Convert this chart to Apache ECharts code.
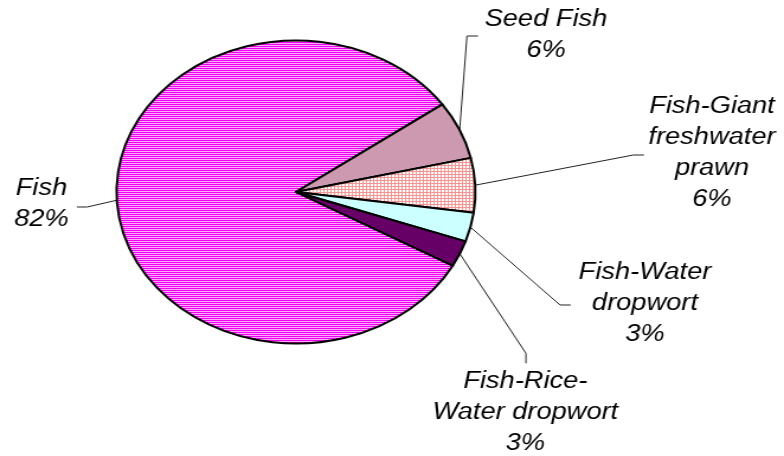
<!DOCTYPE html>
<html><head><meta charset="utf-8">
<script src="https://cdn.jsdelivr.net/npm/echarts@6/dist/echarts.min.js"></script>
<style>
html,body{margin:0;padding:0;background:#fff;overflow:hidden;}
#wrap{width:784px;height:456px;overflow:hidden;position:relative;}
#chart{width:662px;height:456px;transform:scaleX(1.18429);transform-origin:0 0;}
</style></head><body>
<div id="wrap"><div id="chart"></div></div>
<script>
// ---- data ----
const categories = ['Fish', 'Seed Fish', 'Fish-Giant freshwater prawn', 'Fish-Water dropwort', 'Fish-Rice-Water dropwort'];
const shares = [82.1, 6.2, 5.8, 3.1, 2.8];
const labelNames = ['Fish', 'Seed Fish', 'Fish-Giant\nfreshwater\nprawn', 'Fish-Water\ndropwort', 'Fish-Rice-\nWater dropwort'];

// ---- layout (unstretched coordinates) ----
const CX = 249.9, CY = 192, R = 151.5, START = -29.1;
const labelPos = [
  {x: 35.0, y: 204, elbow: [73.5, 207], end: [65, 207]},
  {x: 461.0, y: 35, elbow: [394.3, 36], end: [403.6, 36]},
  {x: 601.2, y: 153.6, elbow: [534.8, 155], end: [543.8, 155]},
  {x: 544.6, y: 303.5, elbow: [472.9, 305], end: [481.9, 305]},
  {x: 443.6, y: 413, elbow: [444.1, 353.3], end: [444.1, 363.3]}
];

function makePattern(w, h, cells) {
  const c = document.createElement('canvas');
  c.width = w; c.height = h;
  const ctx = c.getContext('2d');
  for (let j = 0; j < h; j++) for (let i = 0; i < w; i++) {
    ctx.fillStyle = cells[j * w + i];
    ctx.fillRect(i, j, 1, 1);
  }
  return {image: c, repeat: 'repeat'};
}
const M = '#F000F0', P = '#FFA8FF';
const L = '#F29494', W = '#FFFFFF';
const fills = [
  makePattern(1, 2, [M, P]),
  '#CC99B0',
  makePattern(3, 3, [L, L, L, L, W, W, L, W, W]),
  '#CCFFFF',
  '#660066'
];

function edgePoint(i) {
  const total = shares.reduce((a, b) => a + b, 0);
  let acc = 0;
  for (let k = 0; k < i; k++) acc += shares[k];
  const mid = START - (acc + shares[i] / 2) / total * 360;
  const a = mid * Math.PI / 180;
  return [CX + R * Math.cos(a), CY - R * Math.sin(a)];
}

const chart = echarts.init(document.getElementById('chart'), null, {renderer: 'canvas'});
chart.setOption({
  animation: false,
  series: [{
    type: 'pie',
    center: [CX, CY],
    radius: R,
    startAngle: START,
    clockwise: true,
    percentPrecision: 0,
    avoidLabelOverlap: false,
    silent: true,
    itemStyle: {borderColor: '#000', borderWidth: 2},
    label: {
      show: true,
      position: 'outside',
      formatter: p => labelNames[p.dataIndex] + '\n' + p.percent + '%',
      fontFamily: '"Liberation Sans", Arial, sans-serif',
      fontStyle: 'italic',
      fontSize: 23,
      lineHeight: 31,
      color: '#000',
      align: 'center'
    },
    labelLine: {show: true, lineStyle: {color: '#222', width: 1}},
    labelLayout: function (params) {
      const lp = labelPos[params.dataIndex];
      return {
        x: lp.x, y: lp.y, align: 'center', verticalAlign: 'middle',
        labelLinePoints: [edgePoint(params.dataIndex), lp.elbow, lp.end]
      };
    },
    data: categories.map((c, i) => ({name: c, value: shares[i], itemStyle: {color: fills[i]}}))
  }]
});
</script>
</body></html>
